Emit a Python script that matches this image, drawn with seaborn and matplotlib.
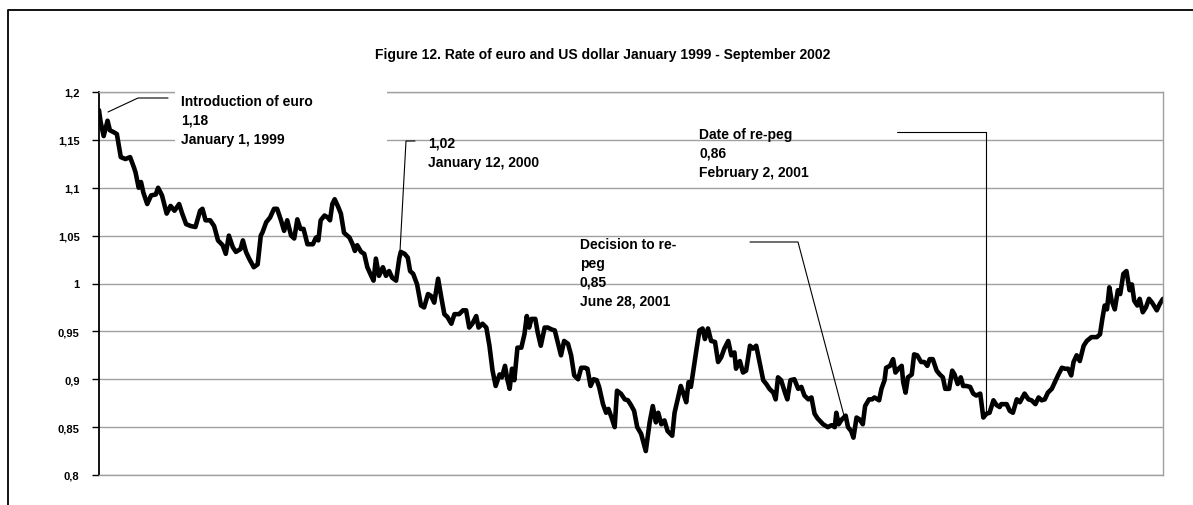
import numpy as np
import pandas as pd
import matplotlib
matplotlib.use("Agg")
import matplotlib.pyplot as plt
import seaborn as sns
from matplotlib.ticker import NullLocator
from matplotlib.patches import Rectangle
from matplotlib.lines import Line2D

# ---------------- data ----------------
start_date = "1999-01-01"
span_days = 1368  # to 2002-09-30

day_offset = [
    0, 2, 6, 11, 14, 19, 23, 28, 34, 40, 45, 47, 51, 54, 57, 62, 67, 73, 76, 81,
    87, 92, 97, 103, 107, 112, 118, 124, 130, 133, 137, 143, 148, 153, 159, 163, 167, 172, 176, 182,
    185, 189, 193, 199, 204, 208, 210, 215, 220, 225, 229,
    234, 238, 242, 247, 251, 255, 259, 263, 268, 275, 279, 282, 285, 290, 294, 297, 300, 303, 307, 311,
    315, 322, 326, 329, 332, 337, 341, 345, 350, 353, 356, 360, 365, 369, 373, 377, 382, 386, 388, 393,
    397, 400, 404, 409, 414, 418, 423, 427, 431, 436, 440, 444, 448, 453, 457,
    463, 468, 472, 476, 480, 485, 488, 493, 498, 502, 506, 510, 515, 518, 522, 525, 528, 531, 534, 538,
    543, 547, 550, 553, 556, 561, 564, 568, 573, 577, 582, 586, 591, 594, 598, 603, 607, 611, 616, 620,
    625, 628, 632, 636, 640, 643, 648, 652, 655, 659, 663, 666, 671, 676, 680, 684, 688, 692,
    697, 703, 708, 712, 716, 719, 723, 727, 731, 737, 740, 744, 748, 751, 755, 758, 761, 765, 768, 772,
    776, 779, 783, 787, 792, 796, 800, 804, 809, 813, 817, 819, 824, 828, 832, 837, 841, 845, 849, 854,
    858, 862, 867, 870, 873, 877, 882, 885, 889, 894, 899, 903, 907, 912, 916, 920, 924,
    931, 937, 942, 946, 948, 951, 955, 960, 963, 967, 970, 974, 978, 982, 985, 990, 994, 997, 1003, 1006,
    1010, 1012, 1017, 1021, 1024, 1028, 1032, 1034, 1037, 1040, 1045, 1048, 1052, 1057, 1061, 1065, 1068, 1072, 1077, 1081,
    1085, 1088, 1093, 1097, 1100, 1104, 1108, 1111, 1115, 1120, 1124, 1128, 1133, 1137, 1141, 1145, 1150, 1154, 1158,
    1160, 1167, 1171, 1175, 1180, 1184, 1190, 1195, 1199, 1204, 1208, 1212, 1216, 1220, 1225, 1229, 1233, 1238, 1242, 1246,
    1250, 1253, 1257, 1261, 1266, 1270, 1276, 1283, 1287, 1290, 1293, 1296, 1299, 1302, 1306, 1310, 1313, 1317, 1321, 1325,
    1328, 1331, 1335, 1338, 1342, 1346, 1350, 1354, 1360, 1364, 1368,
]

eur_usd = [
    1.181, 1.169, 1.154, 1.170, 1.160, 1.158, 1.156, 1.132, 1.130, 1.132, 1.121, 1.116, 1.100, 1.106, 1.095, 1.083, 1.092, 1.093, 1.100, 1.092,
    1.073, 1.081, 1.076, 1.083, 1.073, 1.062, 1.060, 1.059, 1.076, 1.078, 1.066, 1.066, 1.060, 1.045, 1.040, 1.031, 1.050, 1.038, 1.033, 1.036,
    1.045, 1.033, 1.026, 1.017, 1.020, 1.050, 1.053, 1.064, 1.069, 1.078, 1.078,
    1.066, 1.055, 1.066, 1.050, 1.047, 1.067, 1.057, 1.057, 1.041, 1.041, 1.048, 1.045, 1.066, 1.071, 1.069, 1.066, 1.083, 1.088, 1.081, 1.073,
    1.053, 1.048, 1.041, 1.034, 1.040, 1.033, 1.031, 1.017, 1.008, 1.003, 1.026, 1.008, 1.017, 1.008, 1.013, 1.006, 1.003, 1.026, 1.033, 1.031,
    1.027, 1.013, 1.010, 0.999, 0.977, 0.975, 0.989, 0.987, 0.980, 1.005, 0.986, 0.968, 0.965, 0.958, 0.968,
    0.968, 0.972, 0.972, 0.954, 0.958, 0.966, 0.954, 0.958, 0.954, 0.935, 0.909, 0.893, 0.905, 0.902, 0.914, 0.900, 0.890, 0.911, 0.899, 0.933,
    0.933, 0.947, 0.966, 0.954, 0.963, 0.963, 0.949, 0.935, 0.954, 0.954, 0.952, 0.951, 0.935, 0.925, 0.940, 0.937, 0.925, 0.904, 0.900, 0.912,
    0.912, 0.911, 0.893, 0.900, 0.899, 0.892, 0.874, 0.865, 0.869, 0.860, 0.850, 0.888, 0.885, 0.879, 0.878, 0.873, 0.867, 0.850,
    0.843, 0.825, 0.855, 0.872, 0.855, 0.865, 0.853, 0.857, 0.846, 0.841, 0.865, 0.879, 0.893, 0.886, 0.876, 0.897, 0.892, 0.914, 0.930, 0.951,
    0.953, 0.942, 0.953, 0.940, 0.939, 0.918, 0.923, 0.932, 0.940, 0.925, 0.928, 0.911, 0.919, 0.907, 0.909, 0.935, 0.932, 0.935, 0.919, 0.899,
    0.895, 0.890, 0.886, 0.879, 0.902, 0.899, 0.886, 0.879, 0.899, 0.900, 0.890, 0.892, 0.883, 0.879, 0.881, 0.864, 0.859,
    0.853, 0.850, 0.852, 0.850, 0.865, 0.853, 0.858, 0.862, 0.850, 0.846, 0.839, 0.860, 0.858, 0.853, 0.872, 0.879, 0.879, 0.881, 0.878, 0.890,
    0.899, 0.912, 0.914, 0.921, 0.907, 0.911, 0.914, 0.897, 0.886, 0.902, 0.905, 0.926, 0.925, 0.918, 0.918, 0.914, 0.921, 0.921, 0.909, 0.905,
    0.902, 0.890, 0.890, 0.909, 0.905, 0.895, 0.902, 0.893, 0.893, 0.892, 0.885, 0.883, 0.885, 0.860, 0.864, 0.865, 0.878, 0.873, 0.871,
    0.874, 0.874, 0.867, 0.865, 0.879, 0.876, 0.885, 0.879, 0.878, 0.874, 0.881, 0.878, 0.879, 0.886, 0.890, 0.897, 0.904, 0.912, 0.911, 0.911,
    0.904, 0.918, 0.925, 0.919, 0.935, 0.940, 0.944, 0.944, 0.947, 0.963, 0.977, 0.973, 0.996, 0.982, 0.973, 0.993, 0.989, 1.010, 1.013, 0.993,
    0.999, 0.982, 0.977, 0.984, 0.970, 0.975, 0.984, 0.980, 0.972, 0.979, 0.984,
]

y_ticks = [0.8, 0.85, 0.9, 0.95, 1.0, 1.05, 1.1, 1.15, 1.2]
y_tick_labels = ["0,8", "0,85", "0,9", "0,95", "1", "1,05", "1,1", "1,15", "1,2"]

title_text = "Figure 12. Rate of euro and US dollar January 1999 - September 2002"
note_intro = "Introduction of euro\n1,18\nJanuary 1, 1999"
note_2000 = "1,02\nJanuary 12, 2000"
note_repeg = "Date of re-peg\n0,86\nFebruary 2, 2001"
note_decision = "Decision to re-\npeg\n0,85\nJune 28, 2001"

# ---------------- style ----------------
sns.set_theme(style="white")
plt.rcParams["font.family"] = ["Liberation Sans", "DejaVu Sans"]
plt.rcParams["font.weight"] = "bold"

start = pd.Timestamp(start_date)
df = pd.DataFrame({
    "date": start + pd.to_timedelta(day_offset, unit="D"),
    "rate": eur_usd,
})

W, H = 1193, 506
fig = plt.figure(figsize=(W / 100, H / 100), dpi=100)
fig.patch.set_facecolor("white")
AX_L, AX_R, AX_T, AX_B = 99, 1163, 93, 476
ax = fig.add_axes([AX_L / W, (H - AX_B) / H, (AX_R - AX_L) / W, (AX_B - AX_T) / H])
ax.set_facecolor("white")

sns.lineplot(data=df, x="date", y="rate", color="black", linewidth=3.3,
             estimator=None, ax=ax, zorder=2)

ax.set_xlim(start, start + pd.Timedelta(days=span_days))
ax.set_ylim(0.8, 1.2)
ax.set_yticks(y_ticks)
ax.set_yticklabels(y_tick_labels, fontsize=8, fontweight="bold", color="black")
ax.xaxis.set_major_locator(NullLocator())
ax.set_xlabel("")
ax.set_ylabel("")
ax.yaxis.grid(True, color="#a0a0a0", linewidth=1.0)
ax.xaxis.grid(False)
ax.set_axisbelow(True)
ax.tick_params(axis="y", which="major", direction="out", length=5, width=1,
               color="black", pad=9, left=True)
for side in ["top", "bottom", "right"]:
    ax.spines[side].set_color("#a0a0a0")
    ax.spines[side].set_linewidth(1.0)
ax.spines["left"].set_color("black")
ax.spines["left"].set_linewidth(1.3)


def fx(px):
    return (px - AX_L) / (AX_R - AX_L)


def fy(py):
    return (AX_B - py) / (AX_B - AX_T)


txt_kw = dict(transform=ax.transAxes, fontsize=10, fontweight="bold",
              color="black", ha="left", va="top", linespacing=1.45,
              zorder=5, clip_on=False)
lead_kw = dict(transform=ax.transAxes, color="black", linewidth=0.8,
               clip_on=False, zorder=4)

# white box behind the first note (breaks the gridlines as in the original)
ax.add_patch(Rectangle((fx(175), fy(147)), fx(387) - fx(175), fy(86) - fy(147),
                       transform=ax.transAxes, facecolor="white",
                       edgecolor="none", zorder=3, clip_on=False))

ax.text(fx(181), fy(95), note_intro, **txt_kw)
ax.plot([fx(108), fx(138), fx(168)], [fy(113), fy(99), fy(99)], **lead_kw)

ax.text(fx(428), fy(137), note_2000, **txt_kw)
ax.plot([fx(400), fx(406), fx(415)], [fy(252), fy(142), fy(142)], **lead_kw)

ax.text(fx(699), fy(128), note_repeg, **txt_kw)
ax.plot([fx(897), fx(986), fx(986)], [fy(133), fy(133), fy(414)], **lead_kw)

ax.text(fx(580), fy(238), note_decision, **txt_kw)
ax.plot([fx(750), fx(798), fx(847)], [fy(243), fy(243), fy(428)], **lead_kw)

# title
fig.text(603 / W, 1 - 55 / H, title_text, ha="center", va="center",
         fontsize=10, fontweight="bold", color="black")

# outer chart-area frame (top and left edges visible)
fig.add_artist(Line2D([8 / W, 8 / W, 1.0], [0.0, 1 - 11 / H, 1 - 11 / H],
                      transform=fig.transFigure, color="#111111", linewidth=1.4))

fig.savefig("out.png", dpi=100, facecolor="white")
